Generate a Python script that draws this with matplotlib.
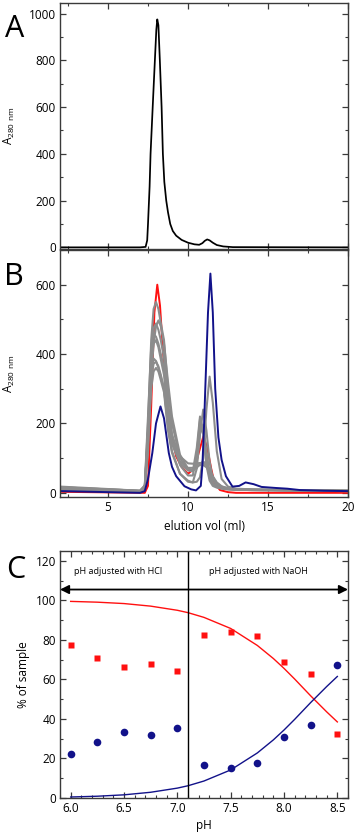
import matplotlib
matplotlib.use("Agg")
import matplotlib.pyplot as plt
from matplotlib.ticker import MultipleLocator, FormatStrFormatter

plt.rcParams['font.family'] = ['Open Sans', 'DejaVu Sans']
plt.rcParams['mathtext.fontset'] = 'custom'
plt.rcParams['mathtext.rm'] = 'Open Sans'

# ---- panel A: single chromatogram
a_vol = [2, 7.0, 7.35, 7.45, 7.5, 7.6, 7.66, 7.8, 7.93, 8.02, 8.08, 8.15, 8.24, 8.35, 8.43,
         8.52, 8.64, 8.75, 8.89, 9.05, 9.26, 9.6, 10.0, 10.4, 10.7, 10.9, 11.05, 11.2,
         11.35, 11.55, 11.8, 12.2, 12.8, 20]
a_abs = [0, 0, 2, 30, 100, 260, 400, 610, 800, 930, 975, 950, 800, 600, 400,
         280, 200, 150, 100, 70, 50, 32, 20, 13, 11, 18, 28, 34,
         30, 20, 10, 4, 1, 0]

# ---- panel B: chromatograms at different pH
red_vol = [2, 7.3, 7.5, 7.7, 7.9, 8.08, 8.25, 8.45, 8.64, 8.9, 9.26, 9.6, 10.0, 10.4, 10.7,
           10.96, 11.2, 11.45, 11.65, 12.0, 12.5, 13, 20]
red_abs = [3, 0, 20, 250, 520, 600, 540, 400, 297, 180, 105, 75, 55, 70, 120,
           163, 130, 70, 29, 8, 2, 0, 0]

blue_vol = [2, 4, 6, 7.0, 7.3, 7.5, 7.77, 8.0, 8.28, 8.5, 8.8, 9.0, 9.26, 9.78, 10.2, 10.5,
            10.8, 10.9, 11.0, 11.08, 11.25, 11.4, 11.55, 11.7, 11.9, 12.1, 12.37, 12.78,
            13.2, 13.6, 14.1, 14.6, 15.5, 16.2, 17, 18.5, 20]
blue_abs = [5, 3, 1, 0, 5, 40, 115, 200, 249, 215, 115, 75, 48, 19, 10, 7,
            20, 80, 190, 300, 520, 632, 520, 300, 160, 95, 48, 18,
            20, 30, 25, 17, 14, 12, 8, 6, 5]

gray_vol = [2, 5, 7.0, 7.3, 7.5, 7.7, 7.85, 8.0, 8.15, 8.3, 8.5, 8.75, 9.0, 9.5, 10.0,
            10.3, 10.55, 10.75, 10.95, 11.15, 11.35, 11.55, 11.8, 12.1, 12.5, 13, 14, 16, 18, 20]
gray_1 = [16, 10, 6, 20, 200, 440, 530, 550, 530, 490, 440, 300, 200, 100, 65,
          62, 130, 220, 180, 95, 45, 25, 18, 14, 12, 10, 9, 8, 7, 6]
gray_2 = [8, 6, 4, 10, 120, 330, 430, 480, 497, 480, 430, 320, 220, 110, 70,
          65, 90, 170, 240, 180, 90, 40, 20, 14, 11, 9, 8, 7, 6, 5]
gray_3 = [14, 9, 5, 18, 180, 400, 475, 488, 470, 440, 390, 260, 170, 80, 50,
          50, 110, 213, 170, 80, 35, 20, 15, 12, 10, 9, 8, 7, 6, 5]
gray_4 = [18, 11, 6, 22, 220, 420, 458, 450, 430, 400, 360, 240, 165, 105, 85,
          84, 85, 86, 86, 80, 65, 45, 28, 18, 13, 10, 9, 8, 7, 6]
gray_5 = [12, 8, 5, 15, 170, 380, 430, 440, 420, 385, 340, 220, 150, 90, 72,
          72, 76, 80, 80, 74, 60, 40, 25, 16, 12, 10, 9, 8, 7, 6]
gray_6 = [10, 7, 4, 15, 170, 350, 387, 380, 360, 335, 300, 190, 120, 55, 35,
          30, 32, 45, 100, 240, 335, 260, 120, 40, 18, 12, 10, 8, 7, 6]
gray_7 = [16, 10, 6, 18, 160, 330, 372, 378, 365, 340, 300, 200, 140, 85, 65,
          64, 72, 84, 90, 84, 68, 48, 30, 19, 13, 10, 9, 8, 7, 6]
gray_8 = [8, 6, 4, 12, 140, 300, 350, 360, 350, 325, 290, 180, 115, 55, 32,
          30, 70, 170, 195, 120, 55, 28, 18, 13, 10, 9, 8, 7, 6, 5]
gray_curves = [gray_1, gray_2, gray_3, gray_4, gray_5, gray_6, gray_7, gray_8]

# ---- panel C: % of sample vs pH
ph = [6.0, 6.25, 6.5, 6.75, 7.0, 7.25, 7.5, 7.75, 8.0, 8.25, 8.5]
pct_first = [77.2, 71.0, 66.1, 67.6, 64.4, 82.5, 84.2, 81.8, 68.6, 62.7, 32.3]
pct_second = [22.3, 28.2, 33.3, 31.9, 35.2, 16.9, 15.4, 17.7, 30.8, 36.7, 67.1]
fit_ph = [6.0, 6.25, 6.5, 6.75, 7.0, 7.1, 7.25, 7.5, 7.75, 7.9, 8.0, 8.1, 8.25, 8.4, 8.5]
fit_first = [99.5, 99.1, 98.4, 97.1, 95.0, 93.8, 91.4, 85.8, 77.2, 70.6, 65.6, 60.2, 51.7, 43.6, 38.5]
fit_second = [0.5, 0.9, 1.6, 2.9, 5.0, 6.2, 8.6, 14.2, 22.8, 29.4, 34.4, 39.8, 48.3, 56.4, 61.5]

RED = '#ff1010'
BLUE = '#12128a'
GRAY = '#8c8c8c'
SPINE = '#3a3a3a'


def style(ax):
    for s in ax.spines.values():
        s.set_color(SPINE)
        s.set_linewidth(1.0)
    ax.tick_params(which='both', direction='in', top=True, right=True,
                   color=SPINE, labelsize=8.5, pad=3)
    ax.tick_params(which='major', length=4, width=0.9)
    ax.tick_params(which='minor', length=2.2, width=0.8)


fig = plt.figure(figsize=(3.56, 8.36), dpi=100)
W = 288 / 356
L = 60 / 356

# A
axA = fig.add_axes([L, 1 - 249 / 836, W, 246 / 836])
axA.plot(a_vol, a_abs, color='black', lw=1.25)
axA.set_xlim(2, 20)
axA.set_ylim(-7, 1045)
axA.xaxis.set_major_locator(MultipleLocator(5))
axA.xaxis.set_minor_locator(MultipleLocator(2.5))
axA.yaxis.set_major_locator(MultipleLocator(200))
axA.yaxis.set_minor_locator(MultipleLocator(100))
style(axA)
axA.tick_params(labelbottom=False)
axA.set_ylabel(r'A$_{\mathrm{280\ nm}}$', fontsize=8.5)
axA.yaxis.set_label_coords(-0.15, 0.5)

# B
axB = fig.add_axes([L, 1 - 497 / 836, W, 247 / 836])
axB.plot(red_vol, red_abs, color=RED, lw=1.4)
for g in gray_curves:
    axB.plot(gray_vol, g, color=GRAY, lw=1.5)
axB.plot(blue_vol, blue_abs, color=BLUE, lw=1.4)
axB.set_xlim(2, 20)
axB.set_ylim(-12, 700)
axB.xaxis.set_major_locator(MultipleLocator(5))
axB.xaxis.set_minor_locator(MultipleLocator(2.5))
axB.yaxis.set_major_locator(MultipleLocator(200))
axB.yaxis.set_minor_locator(MultipleLocator(100))
style(axB)
axB.set_ylabel(r'A$_{\mathrm{280\ nm}}$', fontsize=8.5)
axB.yaxis.set_label_coords(-0.15, 0.5)
axB.set_xlabel('elution vol (ml)', fontsize=8.5)
axB.xaxis.set_label_coords(0.5, -0.095)

# C
axC = fig.add_axes([L, 1 - 798 / 836, W, 247 / 836])
axC.plot(fit_ph, fit_first, color=RED, lw=1.0)
axC.plot(fit_ph, fit_second, color=BLUE, lw=1.0)
axC.plot(ph, pct_first, 's', color=RED, ms=5, mec='none')
axC.plot(ph, pct_second, 'o', color=BLUE, ms=5.5, mec='none')
axC.axvline(7.1, color='black', lw=1.0)
axC.annotate('', xy=(5.9, 105.5), xytext=(8.6, 105.5),
             arrowprops=dict(arrowstyle='<|-|>', color='black', lw=1.3,
                             mutation_scale=13, shrinkA=0, shrinkB=0))
axC.text(6.44, 114.4, 'pH adjusted with HCl', fontsize=6.5, ha='center', va='center')
axC.text(7.76, 114.4, 'pH adjusted with NaOH', fontsize=6.5, ha='center', va='center')
axC.set_xlim(5.9, 8.6)
axC.set_ylim(0, 125)
axC.xaxis.set_major_locator(MultipleLocator(0.5))
axC.xaxis.set_minor_locator(MultipleLocator(0.1))
axC.xaxis.set_major_formatter(FormatStrFormatter('%.1f'))
axC.yaxis.set_major_locator(MultipleLocator(20))
axC.yaxis.set_minor_locator(MultipleLocator(10))
style(axC)
axC.set_ylabel('% of sample', fontsize=8.5)
axC.yaxis.set_label_coords(-0.105, 0.5)
axC.set_xlabel('pH', fontsize=8.5)
axC.xaxis.set_label_coords(0.5, -0.085)

fig.text(14.5 / 356, 1 - 29 / 836, 'A', fontsize=22, ha='center', va='center')
fig.text(14 / 356, 1 - 277 / 836, 'B', fontsize=22, ha='center', va='center')
fig.text(16 / 356, 1 - 570 / 836, 'C', fontsize=22, ha='center', va='center')

fig.savefig('out.png', dpi=100)
